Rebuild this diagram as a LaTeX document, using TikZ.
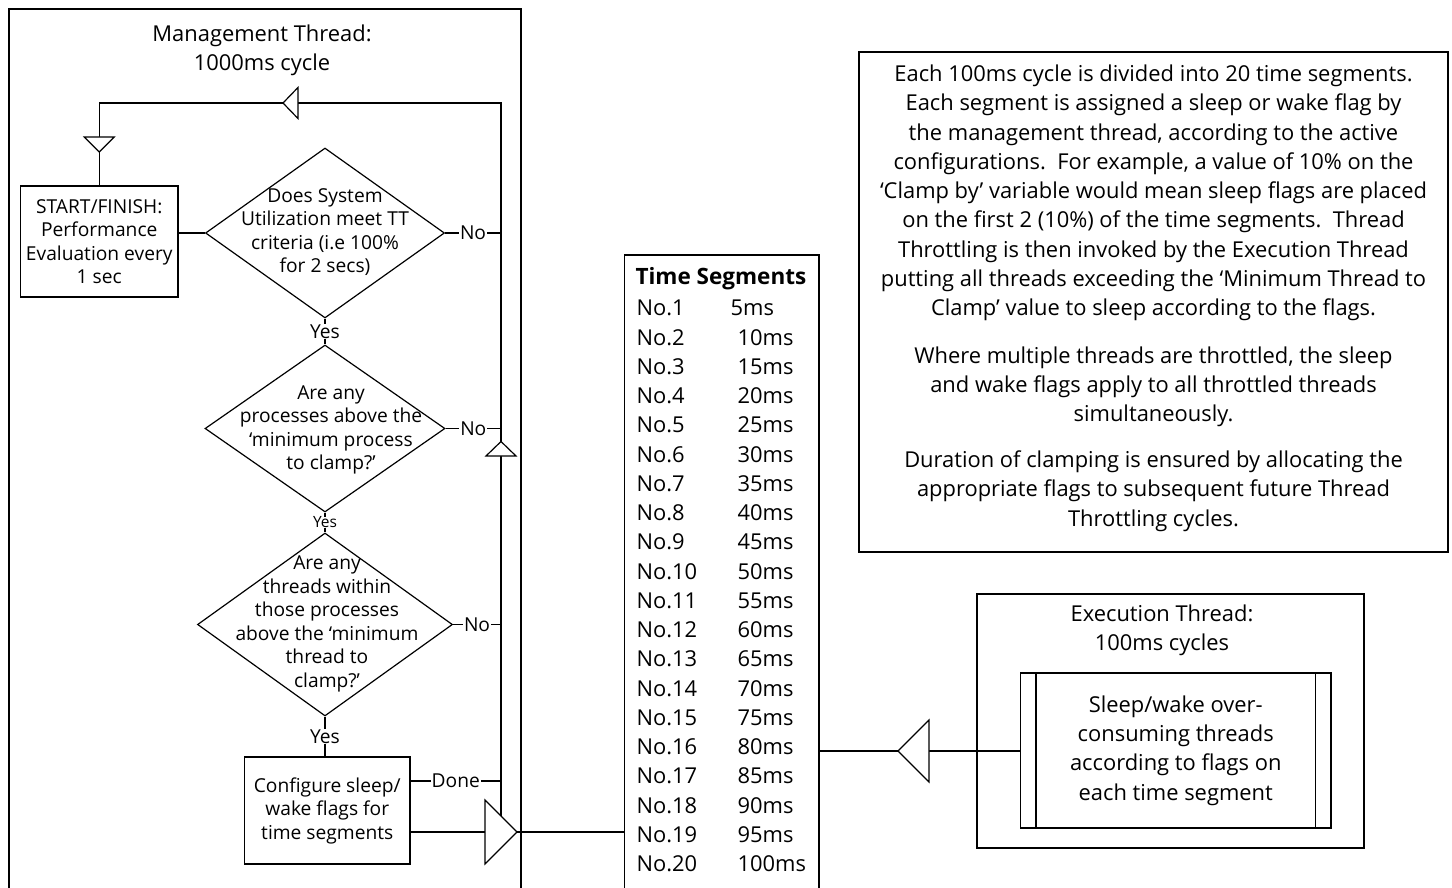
\documentclass[tikz,border=0pt]{standalone}
\usepackage{fontspec}
\setmainfont{Open Sans}
\usetikzlibrary{shapes.geometric}
\begin{document}
\begin{tikzpicture}[x=1pt,y=-1pt,line width=1.2pt,
  fA/.style={font=\fontsize{21.9}{29.3}\selectfont},
  fB/.style={font=\fontsize{19.2}{23.5}\selectfont},
  box/.style={draw,rectangle,inner sep=0pt},
  dia/.style={draw,diamond,inner sep=0pt},
  txt/.style={align=center,inner sep=0pt},
  lbl/.style={fB,fill=white,inner sep=1pt},
  tri/.style={draw,fill=white,line join=miter}]
\useasboundingbox (0,0) rectangle (1452,888);
\clip (0,0) rectangle (1452,888);

% ---------- management thread ----------
\node[box,minimum width=512,minimum height=960] (mgmt) at (265,489) {};
\node[txt,fA] (mtitle) at (262,50) {Management Thread:\\1000ms cycle};

\node[box,fB,align=center,minimum width=157.5,minimum height=111] (start) at (99.25,241.5)
  {START/FINISH:\\Performance\\Evaluation every\\1 sec};

\node[dia,minimum width=239,minimum height=170] (d1) at (325,233) {};
\node[txt,fB] (d1t) at (325,232) {Does System\\Utilization meet TT\\criteria (i.e 100\%\\for 2 secs)};

\node[dia,minimum width=240,minimum height=167] (d2) at (325,428.5) {};
\node[txt,fB] (d2t) at (331,430) {Are any\\processes above the\\‘minimum process\\to clamp?’};

\node[dia,minimum width=255,minimum height=183] (d3) at (325,624.5) {};
\node[txt,fB] (d3t) at (327,624) {Are any\\threads within\\those processes\\above the ‘minimum\\thread to\\clamp?’};

\node[box,fB,align=center,minimum width=165.5,minimum height=107] (config) at (327.25,810.5)
  {Configure sleep/\\wake flags for\\time segments};

\coordinate (rt) at (501,103);
\coordinate (rbot) at (501,816);
\coordinate (yDone) at (0,781);
\coordinate (yOut) at (0,832);
\coordinate (yExec) at (0,751);
\coordinate (t4b) at (485,832);
\coordinate (t4a) at (517,832);
\coordinate (t5a) at (898,751);
\coordinate (t5b) at (929,751);

% loop back
\draw (rbot) -- (rt) -- (start.north |- rt) -- (start.north);
\draw (start.east |- d1.west) -- (d1.west);
\draw (d1.east) -- node[lbl]{No} (d1.east -| rt);
\draw (d1.south) -- node[lbl]{Yes} (d2.north);
\draw (d2.east) -- node[lbl]{No} (d2.east -| rt);
\draw (d2.south) -- node[lbl,inner sep=0.3pt,font=\fontsize{15.5}{15.5}\selectfont]{Yes} (d3.north);
\draw (d3.east) -- node[lbl]{No} (d3.east -| rt);
\draw (d3.south) -- node[lbl]{Yes} (d3.south |- config.north);
\draw (config.east |- yDone) -- node[lbl]{Done} (rt |- yDone);
\draw (config.east |- yOut) -- (t4b);

% flow triangles
\draw[tri] (283,103) -- (298,87.5) -- (298,118.5) -- cycle;
\draw[tri] ([xshift=-15pt]start.north |- 0,137) -- ([xshift=15pt]start.north |- 0,137) -- (start.north |- 0,152) -- cycle;
\draw[tri] (501,441.5) -- (516,456) -- (486,456) -- cycle;
\draw[tri] (485,800) -- (t4a) -- (485,864) -- cycle;

% ---------- time segments ----------
\node[box,minimum width=194.5,minimum height=700] (tbox) at (721.75,605) {};
\draw (t4a) -- (tbox.west |- yOut);
\node[anchor=west,inner sep=0pt,font=\fontsize{22.5}{24}\selectfont\bfseries] (thead) at (635,279) {Time Segments};
\foreach \i [evaluate=\i as \yy using 308+(\i-1)*29.26, evaluate=\i as \ms using int(5*\i)] in {1,...,20}{
  \node[anchor=west,inner sep=0pt,fA] (no\i) at (636,\yy) {No.\i};
  \ifnum\i=1
    \node[anchor=west,inner sep=0pt,fA] (ms\i) at (730,\yy) {\ms ms};
  \else
    \node[anchor=west,inner sep=0pt,fA] (ms\i) at (737,\yy) {\ms ms};
  \fi
}

% ---------- note ----------
\node[box,minimum width=589,minimum height=500] (note) at (1153.5,302) {};
\node[txt,fA] (p1) at (1153.5,193) {Each 100ms cycle is divided into 20 time segments.\\
Each segment is assigned a sleep or wake flag by\\
the management thread, according to the active\\
configurations.\ \ For example, a value of 10\% on the\\
‘Clamp by’ variable would mean sleep flags are placed\\
on the first 2 (10\%) of the time segments.\ \ Thread\\
Throttling is then invoked by the Execution Thread\\
putting all threads exceeding the ‘Minimum Thread to\\
Clamp’ value to sleep according to the flags.};
\node[txt,fA] (p2) at (1153.5,387) {Where multiple threads are throttled, the sleep\\
and wake flags apply to all throttled threads\\
simultaneously.};
\node[txt,fA] (p3) at (1153.5,491) {Duration of clamping is ensured by allocating the\\
appropriate flags to subsequent future Thread\\
Throttling cycles.};

% ---------- execution thread ----------
\node[box,minimum width=387,minimum height=254] (exec) at (1170.5,721) {};
\node[txt,fA] (etitle) at (1162,630) {Execution Thread:\\100ms cycles};
\node[box,fA,align=center,minimum width=310.5,minimum height=155] (proc) at (1175.75,750.5)
  {Sleep/wake over-\\consuming threads\\according to flags on\\each time segment};
\draw ([xshift=16pt]proc.north west) -- ([xshift=16pt]proc.south west);
\draw ([xshift=-16pt]proc.north east) -- ([xshift=-16pt]proc.south east);

\draw (tbox.east |- yExec) -- (t5a);
\draw (t5b) -- (proc.west |- yExec);
\draw[tri] (t5a) -- (929,720) -- (929,782) -- cycle;
\end{tikzpicture}
\end{document}
